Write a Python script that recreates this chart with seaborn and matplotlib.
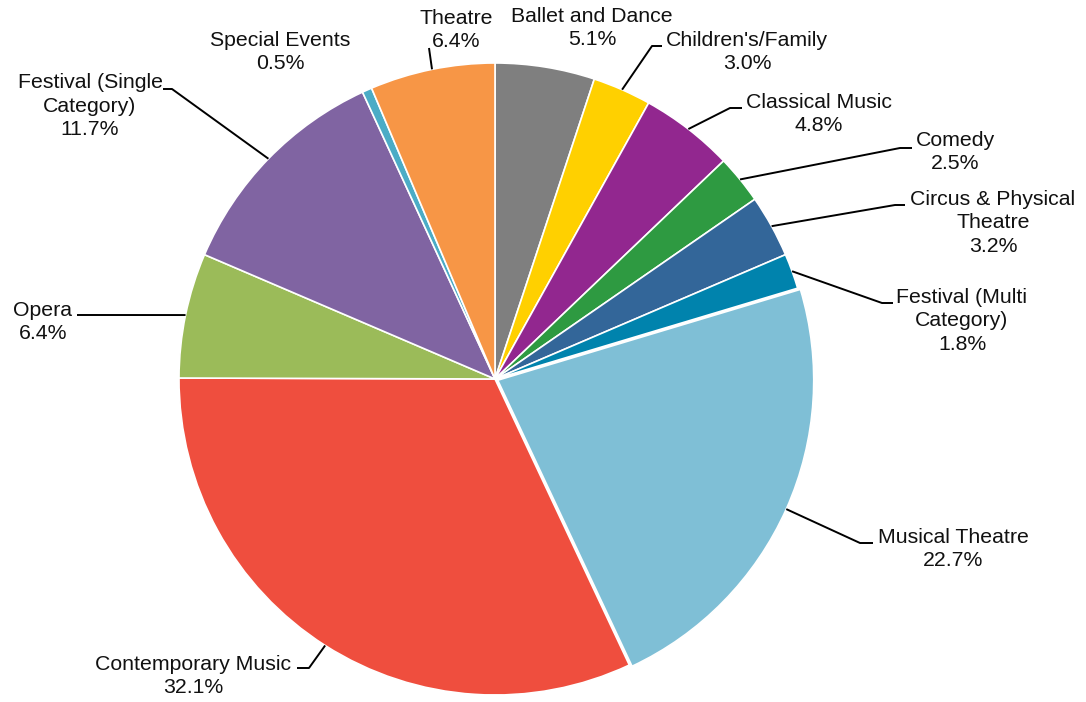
import numpy as np
import matplotlib
matplotlib.use("Agg")
import matplotlib.pyplot as plt
import seaborn as sns

# Share of performances by category
categories = [
    "Ballet and Dance", "Children's/Family", "Classical Music", "Comedy",
    "Circus & Physical\nTheatre", "Festival (Multi\nCategory)", "Musical Theatre",
    "Contemporary Music", "Opera", "Festival (Single\nCategory)", "Special Events",
    "Theatre",
]
shares = [5.1, 3.0, 4.8, 2.5, 3.2, 1.8, 22.7, 32.1, 6.4, 11.7, 0.5, 6.4]
colors = [
    "#7F7F7F", "#FFD000", "#92278F", "#2E9A41", "#336699", "#0083AD",
    "#7FBFD6", "#EF4E3E", "#9BBB59", "#8064A2", "#4BACC6", "#F79646",
]
# Musical Theatre wedge is pulled out slightly (offset in pixels)
explode = [0, 0, 0, 0, 0, 0, 3, 0, 0, 0, 0, 0]

# Label layout in pixel coordinates (origin top-left):
# text centre, and leader-line elbow / end (None = no leader)
text_pos = [
    (592, 28), (747, 52), (819, 114), (955, 152), (993, 223), (962, 321),
    (953, 549), (193, 676), (43, 322), (90, 106), (280, 52), (456, 30),
]
leader = [
    None,
    [(652, 46), (662, 46)],
    [(730, 108), (742, 108)],
    [(900, 148), (912, 148)],
    [(895, 205), (905, 205)],
    [(882, 303), (893, 303)],
    [(860, 543), (873, 543)],
    [(309, 668), (297, 668)],
    [(90, 315), (77, 315)],
    [(172, 89), (163, 89)],
    None,
    [(429, 48)],
]

W, H = 1086, 702
CX, CY, R = 495, 379, 316

sns.set_theme(style="white")
plt.rcParams["font.family"] = ["Liberation Sans", "DejaVu Sans"]

fig = plt.figure(figsize=(W / 100, H / 100), dpi=100)
ax = fig.add_axes([0, 0, 1, 1])

wedges, _ = ax.pie(
    shares,
    colors=colors,
    explode=explode,
    startangle=90,
    counterclock=False,
    radius=R,
    center=(CX, H - CY),
    wedgeprops=dict(edgecolor="white", linewidth=1.2),
)
ax.set_xlim(0, W)
ax.set_ylim(0, H)
ax.set_aspect("equal")
ax.axis("off")

for w, cat, val, tp, ld in zip(wedges, categories, shares, text_pos, leader):
    ax.text(tp[0], H - tp[1], f"{cat}\n{val:.1f}%", ha="center", va="center",
            multialignment="center", fontsize=15.3, color="#111111", linespacing=1.3)
    if ld is None:
        continue
    ang = np.deg2rad((w.theta1 + w.theta2) / 2)
    cx, cy = w.center
    start = (cx + w.r * np.cos(ang), cy + w.r * np.sin(ang))
    xs = [start[0]] + [p[0] for p in ld]
    ys = [start[1]] + [H - p[1] for p in ld]
    ax.plot(xs, ys, color="black", linewidth=1.4, solid_capstyle="butt")

fig.savefig("out.png", dpi=100)
